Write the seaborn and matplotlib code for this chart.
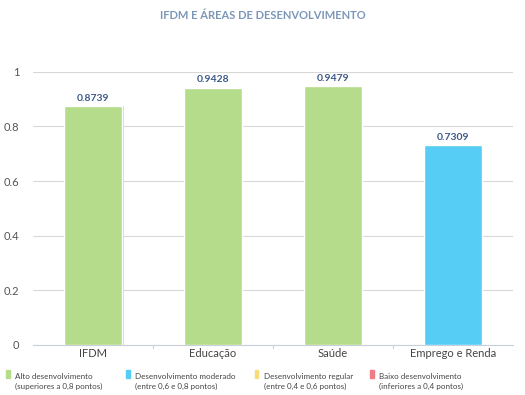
import pandas as pd
import matplotlib.pyplot as plt
import seaborn as sns
from matplotlib.patches import Rectangle

# dados
categorias = ['IFDM', 'Educação', 'Saúde', 'Emprego e Renda']
valores = [0.8739, 0.9428, 0.9479, 0.7309]
faixas = ['Alto', 'Alto', 'Alto', 'Moderado']

legenda_textos = ['Alto desenvolvimento\n(superiores a 0,8 pontos)',
                  'Desenvolvimento moderado\n(entre 0,6 e 0,8 pontos)',
                  'Desenvolvimento regular\n(entre 0,4 e 0,6 pontos)',
                  'Baixo desenvolvimento\n(inferiores a 0,4 pontos)']
legenda_cores = ['#b5dc8a', '#55cdf5', '#f7dc7a', '#f07c85']
cores = {'Alto': '#b5dc8a', 'Moderado': '#55cdf5'}

df = pd.DataFrame({'categoria': categorias, 'valor': valores, 'faixa': faixas})

sns.set_style('white')
plt.rcParams['font.family'] = ['Lato', 'DejaVu Sans']

fig = plt.figure(figsize=(5.25, 3.95), dpi=100)
ax = fig.add_axes([0.063, 0.127, 0.914, 0.691])

sns.barplot(data=df, x='categoria', y='valor', hue='faixa', palette=cores,
            dodge=False, width=0.48, saturation=1, legend=False, ax=ax, zorder=3)

# sombra leve à direita das barras
for p in list(ax.patches):
    sombra = Rectangle((p.get_x() + 0.014, 0), p.get_width(), p.get_height(),
                       color='#d4d4d4', zorder=2, lw=0)
    ax.add_patch(sombra)

for i, v in enumerate(valores):
    ax.text(i, v + 0.012, f'{v:.4f}', ha='center', va='bottom',
            fontsize=7.5, fontweight='bold', color='#3d5a8a')

ax.set_ylim(0, 1)
ax.set_xlim(-0.5, 3.5)
ax.set_yticks([0, 0.2, 0.4, 0.6, 0.8, 1])
ax.set_yticklabels(['0', '0.2', '0.4', '0.6', '0.8', '1'])
ax.yaxis.grid(True, color='#d8d8d8', lw=0.8, zorder=0)
ax.set_xlabel('')
ax.set_ylabel('')
for s in ['top', 'right', 'left']:
    ax.spines[s].set_visible(False)
ax.spines['bottom'].set_color('#c8d0dc')
ax.tick_params(axis='y', length=0, labelsize=8, colors='#555555', pad=10)
ax.tick_params(axis='x', length=0, labelsize=8, colors='#444444', pad=2)
# marcas entre categorias
for xb in [0.5, 1.5, 2.5]:
    ax.plot([xb, xb], [0, -0.012], color='#c8d0dc', lw=0.8, clip_on=False)

fig.text(0.5, 0.962, 'IFDM E ÁREAS DE DESENVOLVIMENTO', ha='center', va='center',
         fontsize=8, fontweight='bold', color='#7b97b8')

# legenda
xs = [0.012, 0.24, 0.485, 0.705]
for x, txt, c in zip(xs, legenda_textos, legenda_cores):
    fig.patches.append(Rectangle((x, 0.042), 0.007, 0.022, transform=fig.transFigure,
                                 color=c, figure=fig))
    fig.text(x + 0.017, 0.035, txt, ha='left', va='center', fontsize=5.8,
             color='#444444', linespacing=1.5)

fig.savefig('out.png', dpi=100, facecolor='white')
